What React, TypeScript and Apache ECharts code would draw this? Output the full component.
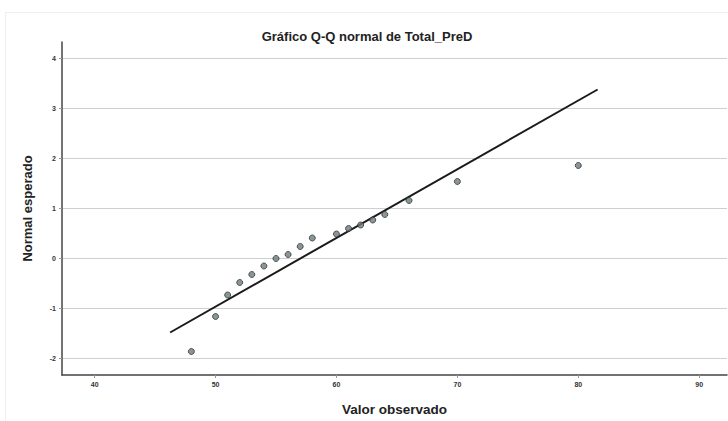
import React, { useEffect, useRef } from "react";
import * as echarts from "echarts";

const observed = [48, 50, 51, 52, 53, 54, 55, 56, 57, 58, 60, 61, 62, 63, 64, 66, 70, 80];
const expected = [-1.86, -1.16, -0.73, -0.48, -0.32, -0.15, 0.0, 0.08, 0.24, 0.41, 0.49, 0.6, 0.67, 0.77, 0.88, 1.16, 1.54, 1.86];
const refLineX = [46.24, 81.6];
const refLineY = [-1.48, 3.38];
const xTicks = [40, 50, 60, 70, 80, 90];
const yTicks = [-2, -1, 0, 1, 2, 3, 4];

const FONT = "'Liberation Sans', Arial, sans-serif";

export default function App() {
  const ref = useRef<HTMLDivElement>(null);
  useEffect(() => {
    if (!ref.current) return;
    const chart = echarts.init(ref.current, null, { renderer: "svg" });
    chart.setOption({
      animation: false,
      backgroundColor: "#ffffff",
      title: {
        text: "Gráfico Q-Q normal de Total_PreD",
        left: 362,
        textAlign: "center",
        top: 25,
        textStyle: { fontFamily: FONT, fontSize: 13, fontWeight: "bold", color: "#222" },
      },
      graphic: [
        {
          type: "rect",
          shape: { x: 5.5, y: 12.5, width: 740, height: 420 },
          style: { fill: "none", stroke: "#eeeeee", lineWidth: 1 },
          silent: true,
          z: -1,
        },
      ],
      grid: { left: 62, right: 1, top: 42, bottom: 46 },
      xAxis: {
        type: "value",
        min: 37.3,
        max: 92.3,
        name: "Valor observado",
        nameLocation: "middle",
        nameGap: 27,
        nameTextStyle: { fontFamily: FONT, fontSize: 13.5, fontWeight: "bold", color: "#222" },
        axisLine: { show: true, onZero: false, lineStyle: { color: "#444", width: 1.5 } },
        axisTick: { show: true, length: 3, lineStyle: { color: "#999" }, customValues: xTicks },
        axisLabel: { customValues: xTicks, fontFamily: FONT, fontSize: 7, fontWeight: "bold", color: "#333", margin: 6 },
        splitLine: { show: false },
      },
      yAxis: {
        type: "value",
        min: -2.33,
        max: 4.33,
        name: "Normal esperado",
        nameLocation: "middle",
        nameGap: 28,
        nameRotate: 90,
        nameTextStyle: { fontFamily: FONT, fontSize: 13, fontWeight: "bold", color: "#222" },
        axisLine: { show: true, onZero: false, lineStyle: { color: "#444", width: 1.5 } },
        axisTick: { show: true, length: 3, lineStyle: { color: "#999" }, customValues: yTicks },
        axisLabel: { customValues: yTicks, fontFamily: FONT, fontSize: 7, fontWeight: "bold", color: "#333", margin: 6 },
        splitLine: { show: true, lineStyle: { color: "#cfcfcf", width: 1 } },
      },
      series: [
        {
          type: "line",
          data: refLineX.map((x, i) => [x, refLineY[i]]),
          showSymbol: false,
          lineStyle: { color: "#1a1a1a", width: 2 },
          z: 2,
        },
        {
          type: "scatter",
          data: observed.map((x, i) => [x, expected[i]]),
          symbolSize: 6,
          itemStyle: { color: "#6c7a80", borderColor: "#333", borderWidth: 1 },
          z: 3,
        },
      ],
    });
    return () => chart.dispose();
  }, []);
  return (
    <div
      ref={ref}
      style={{ position: "absolute", left: 0, top: 0, width: 728, height: 421 }}
    />
  );
}
